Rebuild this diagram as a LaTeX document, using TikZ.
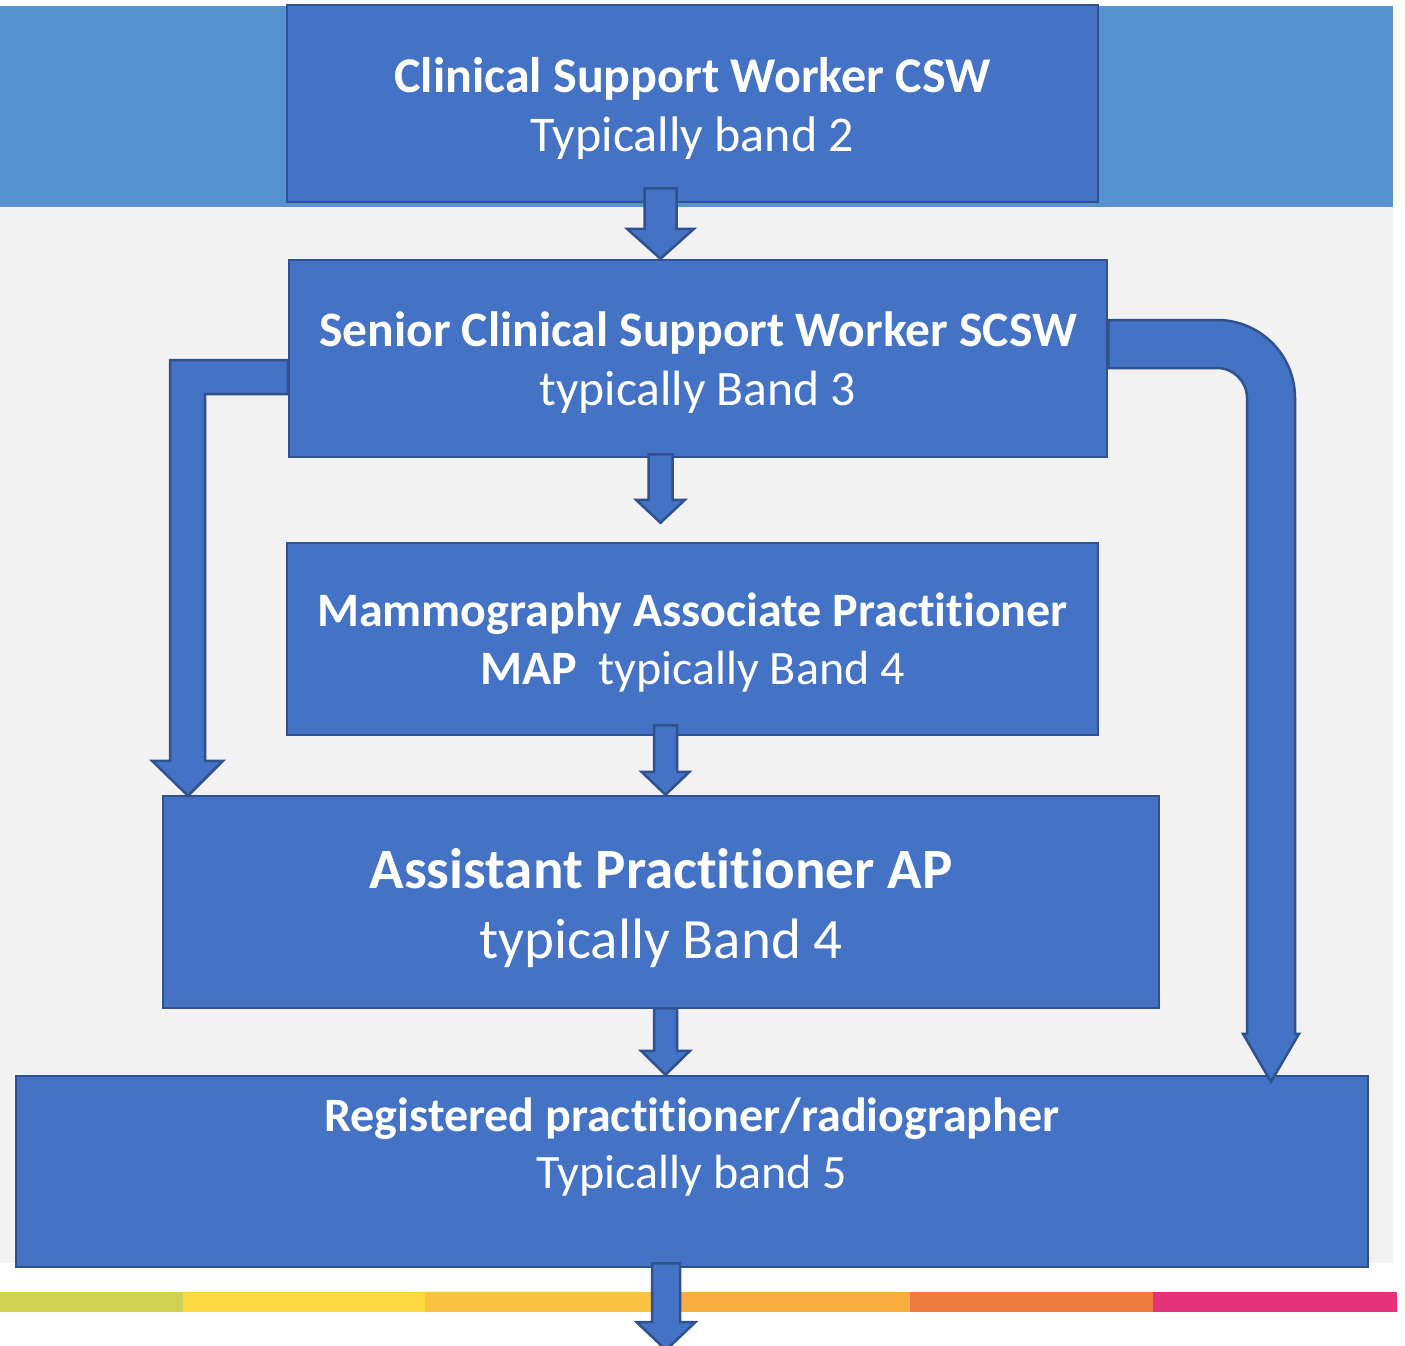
\documentclass[tikz,border=0pt]{standalone}
\usepackage{fontspec}
\setmainfont{Carlito}[Ligatures=NoCommon]
\usetikzlibrary{calc}
\definecolor{bandblue}{HTML}{5592CF}
\definecolor{bggray}{HTML}{F2F2F2}
\definecolor{boxblue}{HTML}{4472C4}
\definecolor{edgeblue}{HTML}{2F528F}
\definecolor{stripA}{HTML}{CFD152}
\definecolor{stripB}{HTML}{FDD944}
\definecolor{stripC}{HTML}{FBC343}
\definecolor{stripD}{HTML}{F9AE42}
\definecolor{stripE}{HTML}{EE7C41}
\definecolor{stripF}{HTML}{E5347A}
\tikzset{
  box/.style={draw=edgeblue, fill=boxblue, line width=2.5pt, inner sep=0pt},
  boxtext/.style={text=white, align=center, inner sep=0pt},
  barrow/.style={draw=edgeblue, fill=boxblue, line width=2.5pt, line join=miter},
}
% down block arrow: #1 x centre, #2 start anchor, #3 start offset up, #4 tip anchor, #5 half shaft, #6 half head, #7 head length
\newcommand{\dnarrow}[7]{%
  \draw[barrow] let \p1=(#2), \p2=(#4) in
   (#1pt-#5pt,\y1+#3pt) -- (#1pt+#5pt,\y1+#3pt) -- (#1pt+#5pt,\y2+#7pt) -- (#1pt+#6pt,\y2+#7pt)
   -- (#1pt,\y2) -- (#1pt-#6pt,\y2+#7pt) -- (#1pt-#5pt,\y2+#7pt) -- cycle;}
\begin{document}
\begin{tikzpicture}[x=1pt,y=-1pt]
\useasboundingbox (0,0) rectangle (1405,1346);
\fill[white] (0,0) rectangle (1405,1346);
% backgrounds
\fill[bandblue] (0,6) rectangle (1393,207);
\fill[bggray] (0,207) rectangle (1393,1263);
% colour strip
\fill[stripA] (0,1292) rectangle (183,1312);
\fill[stripB] (183,1292) rectangle (425,1312);
\fill[stripC] (425,1292) rectangle (668,1312);
\fill[stripD] (668,1292) rectangle (910,1312);
\fill[stripE] (910,1292) rectangle (1153,1312);
\fill[stripF] (1153,1292) rectangle (1397,1312);
% boxes
\node[box, minimum width=811pt, minimum height=197pt,
  label={[name=cswt, boxtext, font=\fontsize{50}{59}\selectfont, yshift=-4.5pt]center:{\textbf{Clinical Support Worker CSW}\\Typically band 2}}]
  (csw) at (692.5,103.5) {};
\node[box, minimum width=818pt, minimum height=197pt,
  label={[name=scswt, boxtext, font=\fontsize{49.6}{59}\selectfont, yshift=-4pt]center:{\textbf{Senior Clinical Support Worker SCSW}\\typically Band 3}}]
  (scsw) at (698,358.5) {};
\node[box, minimum width=811pt, minimum height=192pt,
  label={[name=mapt, boxtext, font=\fontsize{48}{58}\selectfont, yshift=-4pt]center:{\textbf{Mammography Associate Practitioner}\\\textbf{MAP}\ \ typically Band 4}}]
  (map) at (692.5,639) {};
\node[box, minimum width=996pt, minimum height=212pt,
  label={[name=apt, boxtext, font=\fontsize{57}{70}\selectfont, yshift=-6.5pt]center:{\textbf{Assistant Practitioner AP}\\typically Band 4}}]
  (ap) at (661,902) {};
\node[box, minimum width=1352pt, minimum height=191pt,
  label={[name=regt, boxtext, font=\fontsize{48}{57}\selectfont, yshift=24pt]center:{\textbf{Registered practitioner/radiographer}\\Typically band 5}}]
  (reg) at (692,1171.5) {};
% straight arrows
\dnarrow{660.5}{csw.south}{15}{scsw.north}{16}{33.5}{30}
\dnarrow{660.5}{scsw.south}{4}{[yshift=19pt]map.north}{12}{24.5}{23}
\dnarrow{665.5}{map.south}{11}{ap.north}{11.5}{24}{23}
\dnarrow{665.5}{ap.south}{1}{reg.north}{11.5}{24.5}{24}
% bottom arrow to free end
\coordinate (exitpt) at (666,1350);
\dnarrow{666}{reg.south}{5}{exitpt}{14}{29.5}{28}
% left bent arrow
\draw[barrow] let \p1=(scsw.west), \p2=(ap.north) in
  (\x1,-360pt) -- (170pt,-360pt) -- (170pt,\y2+34pt) -- (152pt,\y2+34pt) -- (188pt,\y2-1pt)
  -- (223pt,\y2+34pt) -- (205pt,\y2+34pt) -- (205pt,-394pt) -- (\x1,-394pt) -- cycle;
% right bent arrow
\draw[barrow] let \p1=(scsw.east), \p2=(reg.north) in
  (\x1,-320pt) -- (1217pt,-320pt) .. controls (1260.1pt,-320pt) and (1295pt,-354.9pt) .. (1295pt,-398pt)
  -- (1295pt,\y2+41pt) -- (1299pt,\y2+41pt) -- (1271pt,\y2-7pt) -- (1243pt,\y2+41pt) -- (1247pt,\y2+41pt)
  -- (1247pt,-398pt) .. controls (1247pt,-381.4pt) and (1233.6pt,-368pt) .. (1217pt,-368pt)
  -- (\x1,-368pt) -- cycle;
\end{tikzpicture}
\end{document}
